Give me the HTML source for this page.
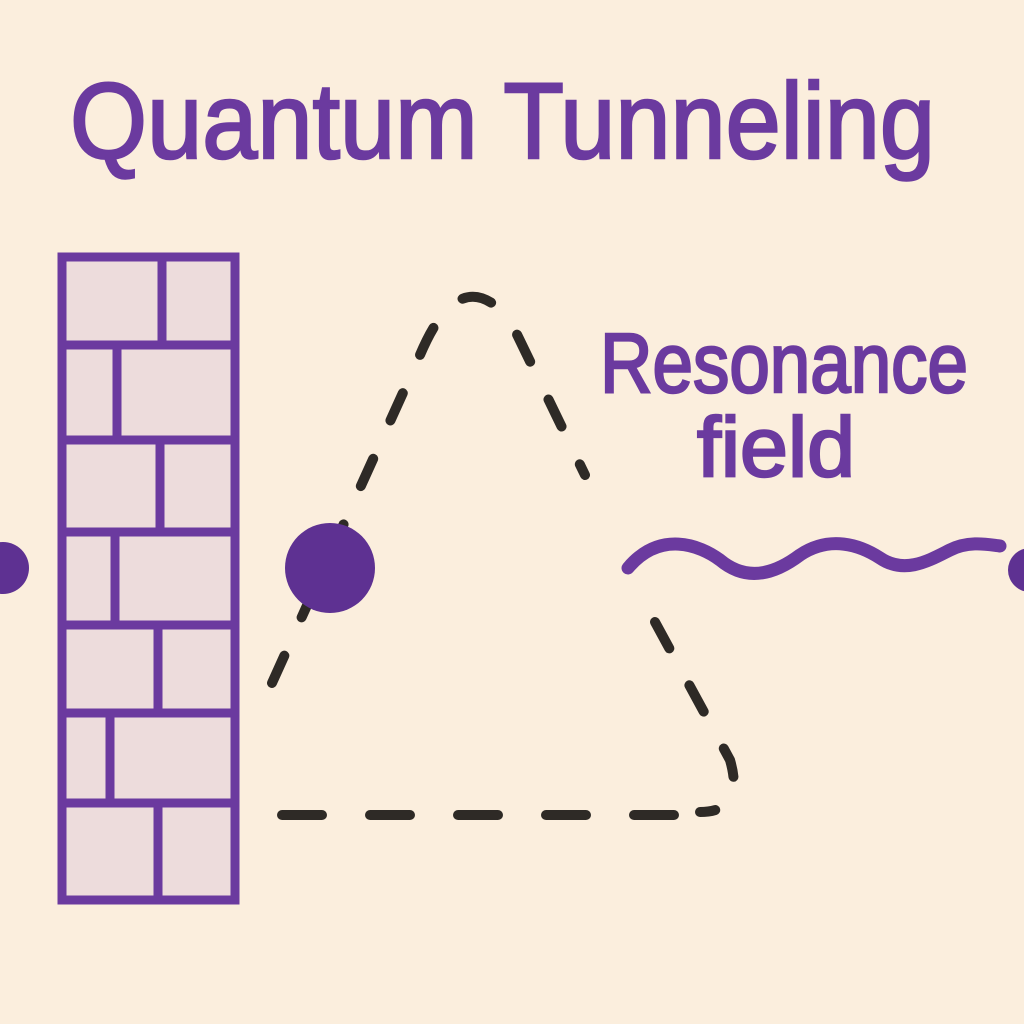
<!DOCTYPE html>
<html><head><meta charset="utf-8"><style>
html,body{margin:0;padding:0;background:#fbeedd;}
svg{display:block}
</style></head><body>
<svg width="1024" height="1024" viewBox="0 0 1024 1024" xmlns="http://www.w3.org/2000/svg">
<rect width="1024" height="1024" fill="#fbeedd"/>
<g font-family="Liberation Sans, sans-serif" fill="#6b3a9f" stroke="#6b3a9f" stroke-width="2.5">
<text x="70" y="158" font-size="108" textLength="865" lengthAdjust="spacingAndGlyphs">Quantum Tunneling</text>
<text x="600" y="392" font-size="84" textLength="368" lengthAdjust="spacingAndGlyphs">Resonance</text>
<text x="697" y="476" font-size="84" textLength="158" lengthAdjust="spacingAndGlyphs">field</text>
</g>
<!-- wall -->
<rect x="62" y="257" width="173" height="643" fill="#eddcdc"/>
<g stroke="#6b3a9f" stroke-width="9" fill="none" stroke-linecap="round">
<rect x="62" y="257" width="173" height="643"/>
<line x1="62" y1="345" x2="235" y2="345"/>
<line x1="62" y1="440" x2="235" y2="440"/>
<line x1="62" y1="532" x2="235" y2="532"/>
<line x1="62" y1="625" x2="235" y2="625"/>
<line x1="62" y1="713" x2="235" y2="713"/>
<line x1="62" y1="803" x2="235" y2="803"/>
<line x1="162" y1="257" x2="162" y2="345"/>
<line x1="117" y1="345" x2="117" y2="440"/>
<line x1="160" y1="440" x2="160" y2="532"/>
<line x1="115" y1="532" x2="115" y2="625"/>
<line x1="158" y1="625" x2="158" y2="713"/>
<line x1="110" y1="713" x2="110" y2="803"/>
<line x1="158" y1="803" x2="158" y2="900"/>
</g>
<!-- wave -->
<path d="M628 568 C660 530 700 545 720 560 C750 585 780 570 800 555 C830 535 860 545 880 558 C905 575 930 560 950 550 C970 540 990 545 1000 546" stroke="#6b3a9f" stroke-width="13" fill="none" stroke-linecap="round"/>
<!-- dashed triangle -->
<g stroke="#2e2a26" stroke-width="10" fill="none" stroke-linecap="round" stroke-dasharray="30 42">
<path d="M272 683 L420 355 Q460 260 510 320 L585 475"/>
<path d="M655 622 L730 760 Q745 812 700 812"/>
<path d="M282 815 L680 815" stroke-dasharray="40 48"/>
</g>
<!-- dots -->
<g fill="#5e3192">
<circle cx="3" cy="568" r="26"/>
<circle cx="330" cy="568" r="45"/>
<circle cx="1030" cy="570" r="22"/>
</g>
</svg>
</body></html>
